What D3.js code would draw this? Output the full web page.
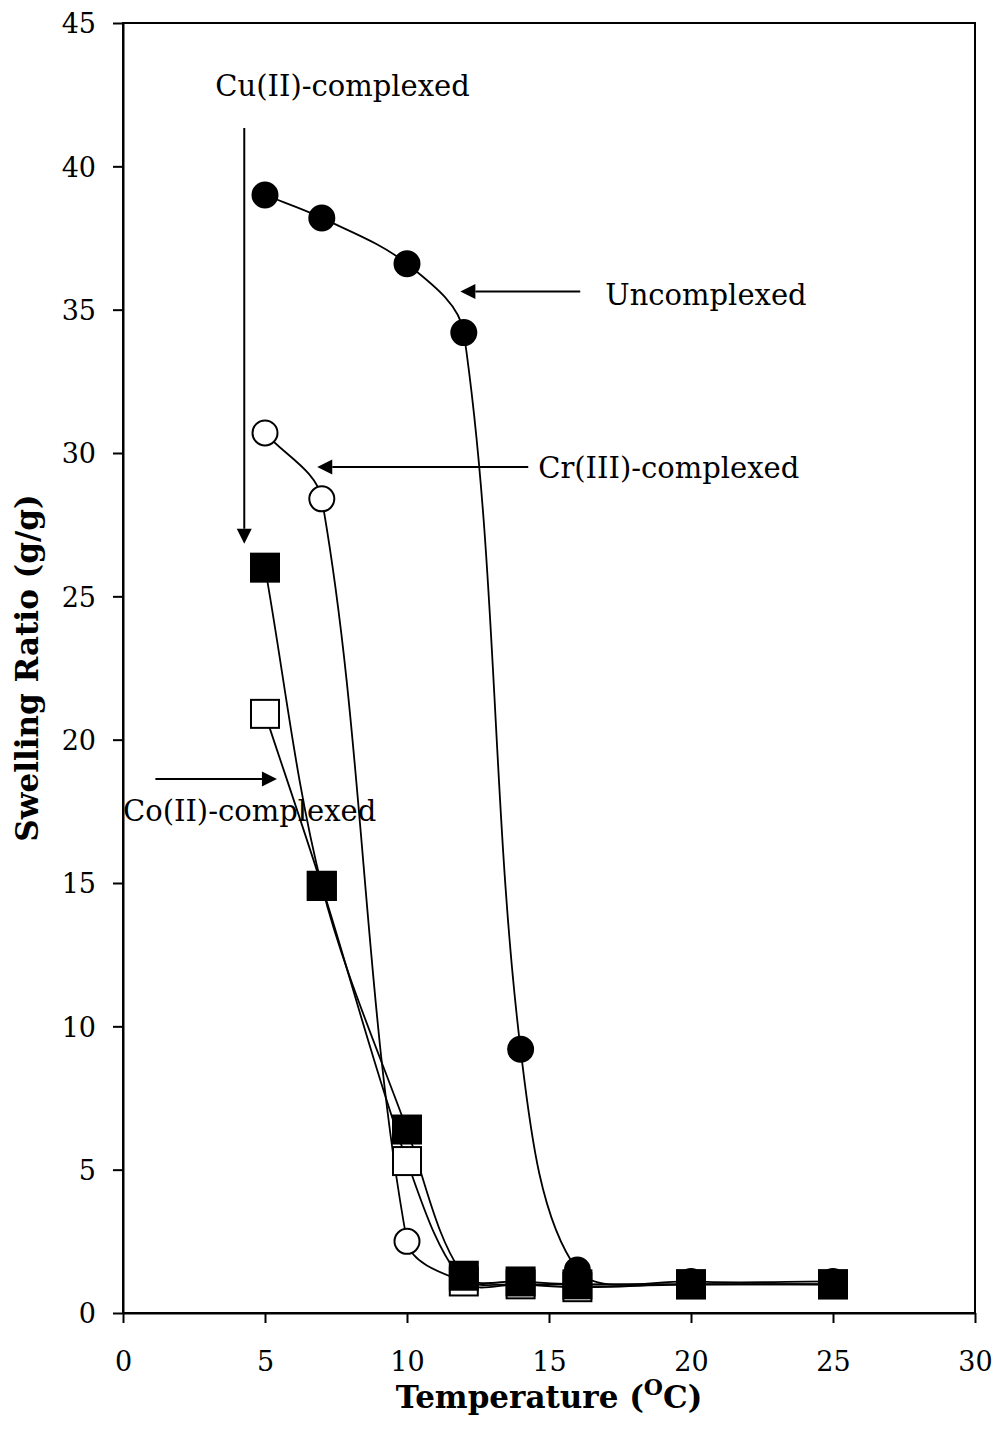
<!DOCTYPE html>
<html>
<head>
<meta charset="utf-8">
<script src="https://cdn.jsdelivr.net/npm/d3@7"></script>
<style>
  body { margin: 0; background: #fff; }
  text { font-family: "DejaVu Serif", "Liberation Serif", serif; fill: #000; }
</style>
</head>
<body>
<svg id="chart"></svg>
<script>
const temps = [5, 7, 10, 12, 14, 16, 20, 25];
const uncomplexed = [39.0, 38.2, 36.6, 34.2, 9.2, 1.5, 1.1, 1.1];
const crComplexed = [30.7, 28.4, 2.5, 1.1, 1.0, 1.0, 1.0, 1.0];
const coComplexed = [20.9, 14.9, 5.3, 1.1, 1.0, 0.9, 1.0, 1.0];
const cuComplexed = [26.0, 14.9, 6.4, 1.3, 1.1, 1.0, 1.0, 1.0];
const xTicks = [0, 5, 10, 15, 20, 25, 30];
const yTicks = [0, 5, 10, 15, 20, 25, 30, 35, 40, 45];

// labels with arrows, in data units: text anchor, arrow start, arrow tip
const notes = [
  {text: 'Cu(II)-complexed', tx: 3.25, ty: 42.45, from: [4.27, 41.34], to: [4.27, 26.83]},
  {text: 'Uncomplexed', tx: 16.98, ty: 35.17, from: [16.1, 35.63], to: [11.88, 35.63]},
  {text: 'Cr(III)-complexed', tx: 14.62, ty: 29.13, from: [14.27, 29.51], to: [6.84, 29.51]},
  {text: 'Co(II)-complexed', tx: 0.0, ty: 17.16, from: [1.14, 18.63], to: [5.42, 18.63]}
];

const W = 995, H = 1443;
const margin = {left: 123, right: 20, top: 23, bottom: 130};

const svg = d3.select('#chart').attr('width', W).attr('height', H);

const x = d3.scaleLinear().domain([0, 30]).range([margin.left, W - margin.right]);
const y = d3.scaleLinear().domain([0, 45]).range([H - margin.bottom, margin.top]);

// frame
svg.append('rect')
  .attr('x', x(0)).attr('y', y(45))
  .attr('width', x(30) - x(0)).attr('height', y(0) - y(45))
  .attr('fill', 'none').attr('stroke', '#000').attr('stroke-width', 2);

const xAxis = svg.append('g')
  .attr('transform', `translate(0, ${y(0)})`)
  .call(d3.axisBottom(x).tickValues(xTicks).tickSize(10).tickSizeOuter(0).tickPadding(12));
const yAxis = svg.append('g')
  .attr('transform', `translate(${x(0)}, 0)`)
  .call(d3.axisLeft(y).tickValues(yTicks).tickSize(10).tickSizeOuter(0).tickPadding(17));
[xAxis, yAxis].forEach(g => {
  g.select('.domain').attr('stroke-width', 2);
  g.selectAll('.tick line').attr('stroke-width', 2);
  g.selectAll('text').style('font-size', '27px').attr('font-family', null);
});
xAxis.selectAll('text').attr('dy', '1.35em');
yAxis.selectAll('text').attr('dy', '0.36em');

// axis titles
const xt = svg.append('text')
  .attr('x', (x(0) + x(30)) / 2).attr('y', 1408)
  .attr('text-anchor', 'middle')
  .style('font-size', '31px').style('font-weight', 'bold');
xt.append('tspan').text('Temperature (');
xt.append('tspan').attr('dy', -13).style('font-size', '22px').text('O');
xt.append('tspan').attr('dy', 13).text('C)');

svg.append('text')
  .attr('transform', `translate(38, ${(y(0) + y(45)) / 2}) rotate(-90)`)
  .attr('text-anchor', 'middle')
  .style('font-size', '31px').style('font-weight', 'bold')
  .text('Swelling Ratio (g/g)');

// spreadsheet-style smoothing: tangent arms scaled by neighbouring segment lengths
function smoothPath(pts) {
  const p = d3.path();
  const n = pts.length;
  const dist = (a, b) => Math.hypot(b[0] - a[0], b[1] - a[1]);
  const tan = i => {
    const a = pts[Math.max(0, i - 1)], b = pts[Math.min(n - 1, i + 1)];
    return [b[0] - a[0], b[1] - a[1]];
  };
  p.moveTo(pts[0][0], pts[0][1]);
  for (let i = 0; i < n - 1; i++) {
    const a = pts[i], b = pts[i + 1];
    const dOut = dist(a, b);
    const dInA = i > 0 ? dist(pts[i - 1], a) : 0;
    const dOutB = i + 2 < n ? dist(b, pts[i + 2]) : 0;
    const ta = tan(i), tb = tan(i + 1);
    const fa = (i > 0 ? dOut / (dInA + dOut) : 1) / 3;
    const fb = (i + 2 < n ? dOut / (dOut + dOutB) : 1) / 3;
    p.bezierCurveTo(
      a[0] + ta[0] * fa, a[1] + ta[1] * fa,
      b[0] - tb[0] * fb, b[1] - tb[1] * fb,
      b[0], b[1]);
  }
  return p.toString();
}

const series = [
  {values: uncomplexed, shape: 'circle', fill: '#000'},
  {values: crComplexed, shape: 'circle', fill: '#fff'},
  {values: coComplexed, shape: 'square', fill: '#fff'},
  {values: cuComplexed, shape: 'square', fill: '#000'}
];

series.forEach(s => {
  const pts = temps.map((t, i) => [x(t), y(s.values[i])]);
  svg.append('path')
    .attr('d', smoothPath(pts))
    .attr('fill', 'none').attr('stroke', '#000').attr('stroke-width', 1.8);
});

series.forEach(s => {
  const pts = temps.map((t, i) => [t, s.values[i]]);
  if (s.shape === 'circle') {
    svg.append('g').selectAll('circle').data(pts).join('circle')
      .attr('cx', d => x(d[0])).attr('cy', d => y(d[1])).attr('r', 12.5)
      .attr('fill', s.fill).attr('stroke', '#000').attr('stroke-width', 2);
  } else {
    svg.append('g').selectAll('rect').data(pts).join('rect')
      .attr('x', d => x(d[0]) - 14).attr('y', d => y(d[1]) - 14)
      .attr('width', 28).attr('height', 28)
      .attr('fill', s.fill).attr('stroke', '#000').attr('stroke-width', 2);
  }
});

// annotations
notes.forEach(n => {
  const x1 = x(n.from[0]), y1 = y(n.from[1]), x2 = x(n.to[0]), y2 = y(n.to[1]);
  const ang = Math.atan2(y2 - y1, x2 - x1);
  const len = 15, hw = 7.5;
  const bx = x2 - len * Math.cos(ang), by = y2 - len * Math.sin(ang);
  svg.append('line')
    .attr('x1', x1).attr('y1', y1).attr('x2', bx).attr('y2', by)
    .attr('stroke', '#000').attr('stroke-width', 2);
  svg.append('path')
    .attr('d', `M${x2},${y2}L${bx - hw * Math.sin(ang)},${by + hw * Math.cos(ang)}L${bx + hw * Math.sin(ang)},${by - hw * Math.cos(ang)}Z`)
    .attr('fill', '#000');
  svg.append('text')
    .attr('x', x(n.tx)).attr('y', y(n.ty))
    .style('font-size', '29px')
    .text(n.text);
});
</script>
</body>
</html>
